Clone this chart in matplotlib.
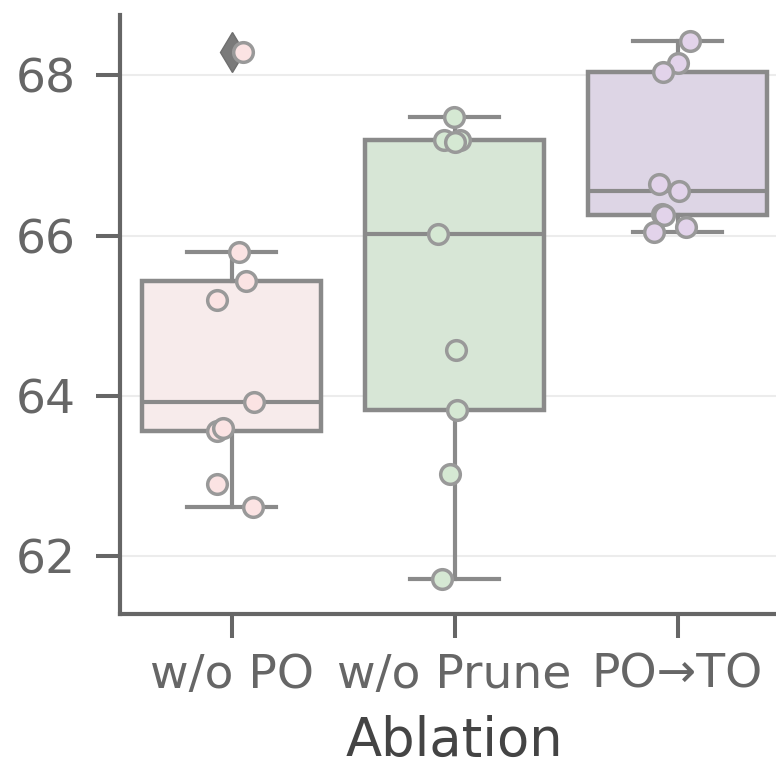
import numpy as np
import matplotlib.pyplot as plt

# ablation scores
categories = ["w/o PO", "w/o Prune", "PO→TO"]
wo_po = [68.29, 65.79, 65.43, 65.20, 63.93, 63.56, 63.60, 62.90, 62.61]
wo_prune = [67.48, 67.19, 67.19, 67.16, 66.02, 64.57, 63.82, 63.02, 61.72]
po_to = [68.42, 68.15, 68.04, 66.64, 66.55, 66.27, 66.25, 66.10, 66.05]

# horizontal strip jitter (category units) as seen in the picture
wo_po_jit = [0.052, 0.035, 0.063, -0.064, 0.100, -0.063, -0.040, -0.064, 0.097]
wo_prune_jit = [-0.001, -0.045, 0.025, 0.0, -0.076, 0.006, 0.009, -0.021, -0.054]
po_to_jit = [0.055, 0.001, -0.064, -0.084, 0.008, -0.07, -0.061, 0.040, -0.106]

yticks = [62, 64, 66, 68]

box_colors = ["#f7ebeb", "#d7e6d6", "#ddd5e5"]
point_colors = ["#fbe3e3", "#d5e8d3", "#e2d3ea"]
line_c = "#8a8a8a"

fig = plt.figure(figsize=(7.76, 7.68), dpi=100)
ax = fig.add_axes([120 / 776, 154 / 768, 669 / 776, 599 / 768])

data = [wo_po, wo_prune, po_to]
jits = [wo_po_jit, wo_prune_jit, po_to_jit]
pos = np.arange(len(categories))

bp = ax.boxplot(
    data, positions=pos, widths=0.8, patch_artist=True, whis=1.5,
    boxprops=dict(edgecolor=line_c, linewidth=3.2),
    whiskerprops=dict(color=line_c, linewidth=3.0),
    capprops=dict(color=line_c, linewidth=3.0),
    medianprops=dict(color=line_c, linewidth=3.0),
    flierprops=dict(marker="d", markerfacecolor="#7a7a7a", markeredgecolor="#6f6f6f",
                    markersize=20),
    zorder=2,
)
for patch, c in zip(bp["boxes"], box_colors):
    patch.set_facecolor(c)

for i, (vals, jit) in enumerate(zip(data, jits)):
    ax.scatter(i + np.array(jit), vals, s=200, facecolor=point_colors[i],
               edgecolor="#999999", linewidth=2.5, zorder=4)

ax.set_xlim(-0.5, 2.5)
ax.set_ylim(61.28, 68.75)
ax.set_yticks(yticks)
ax.set_xticks(pos)
ax.set_xticklabels(categories)
ax.yaxis.grid(True, color="#ececec", linewidth=1.5)
ax.set_axisbelow(True)

for s in ["top", "right"]:
    ax.spines[s].set_visible(False)
for s in ["left", "bottom"]:
    ax.spines[s].set_color("#666666")
    ax.spines[s].set_linewidth(3)

ax.tick_params(axis="both", colors="#666666", labelcolor="#666666", length=17,
               width=2.9, labelsize=34)
ax.tick_params(axis="y", pad=15)
ax.tick_params(axis="x", pad=11)
ax.set_xlabel("Ablation", fontsize=38, color="#444444", labelpad=12)

fig.savefig("out.png", dpi=100)
